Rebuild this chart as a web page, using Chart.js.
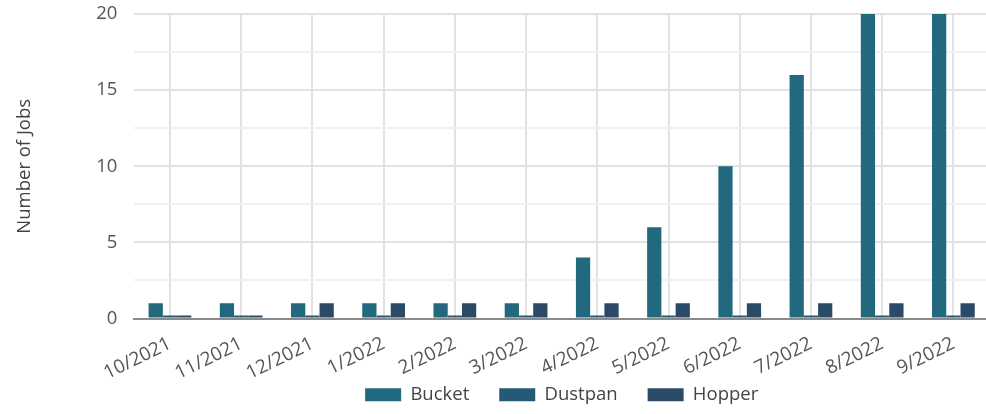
<!DOCTYPE html>
<html>
<head>
<meta charset="utf-8">
<script src="https://cdn.jsdelivr.net/npm/chart.js@4"></script>
<style>
  html, body { margin: 0; padding: 0; background: #fff; overflow: hidden; }
  #wrap { position: absolute; left: 0; top: 0; width: 990px; height: 414px; }
</style>
</head>
<body>
<div id="wrap"><canvas id="c"></canvas></div>
<script>
const categories = ["10/2021", "11/2021", "12/2021", "1/2022", "2/2022", "3/2022", "4/2022", "5/2022", "6/2022", "7/2022", "8/2022", "9/2022"];
const bucket  = [1, 1, 1, 1, 1, 1, 4, 6, 10, 16, 20, 20];
const dustpan = [0, 0, 0, 0, 0, 0, 0, 0, 0, 0, 0, 0];
const hopper  = [0, 0, 1, 1, 1, 1, 1, 1, 1, 1, 1, 1];
const yMax = 20;
const yStep = 2.5;
const yLabelEvery = 5;

const FONT = "'Open Sans', sans-serif";
const FS = 18.5;

new Chart(document.getElementById('c'), {
  type: 'bar',
  data: {
    labels: categories,
    datasets: [
      { label: 'Bucket',  data: bucket,  backgroundColor: '#22687f' },
      { label: 'Dustpan', data: dustpan, backgroundColor: '#245a75' },
      { label: 'Hopper',  data: hopper,  backgroundColor: '#2a4a68' }
    ]
  },
  options: {
    responsive: true,
    maintainAspectRatio: false,
    animation: false,
    categoryPercentage: 0.6,
    barPercentage: 1.0,
    minBarLength: 3,
    layout: { padding: { left: 0, right: 1, top: 0, bottom: 0 } },
    plugins: {
      legend: {
        position: 'bottom',
        fullSize: false,
        labels: {
          boxWidth: 36,
          boxHeight: 13,
          padding: 30,
          color: '#444',
          font: { family: FONT, size: FS }
        }
      },
      tooltip: { enabled: false }
    },
    scales: {
      x: {
        offset: true,
        afterFit: (axis) => {
          axis.height = 37;
          axis._computeLabelArea = () => undefined;
        },
        grid: {
          offset: false,
          color: '#e2e2e2',
          lineWidth: 2,
          drawTicks: false
        },
        border: { display: true, color: '#8a8a8a', width: 2 },
        ticks: {
          color: '#555',
          font: { family: FONT, size: 19 },
          minRotation: 26,
          maxRotation: 26,
          autoSkip: false,
          padding: 14
        }
      },
      y: {
        min: 0,
        max: yMax,
        border: { display: false },
        grid: {
          drawTicks: true,
          tickLength: 14,
          tickColor: 'rgba(0,0,0,0)',
          lineWidth: 2,
          color: (ctx) => (ctx.tick && ctx.tick.value % yLabelEvery === 0) ? '#e2e2e2' : '#f1f1f1'
        },
        ticks: {
          stepSize: yStep,
          padding: 3,
          color: '#555',
          font: { family: FONT, size: FS },
          callback: (v) => (v % yLabelEvery === 0 ? String(v) : '')
        },
        title: {
          display: true,
          text: 'Number of Jobs',
          color: '#444',
          font: { family: FONT, size: FS },
          padding: { top: 14, bottom: 57 }
        }
      }
    }
  }
});
</script>
</body>
</html>
